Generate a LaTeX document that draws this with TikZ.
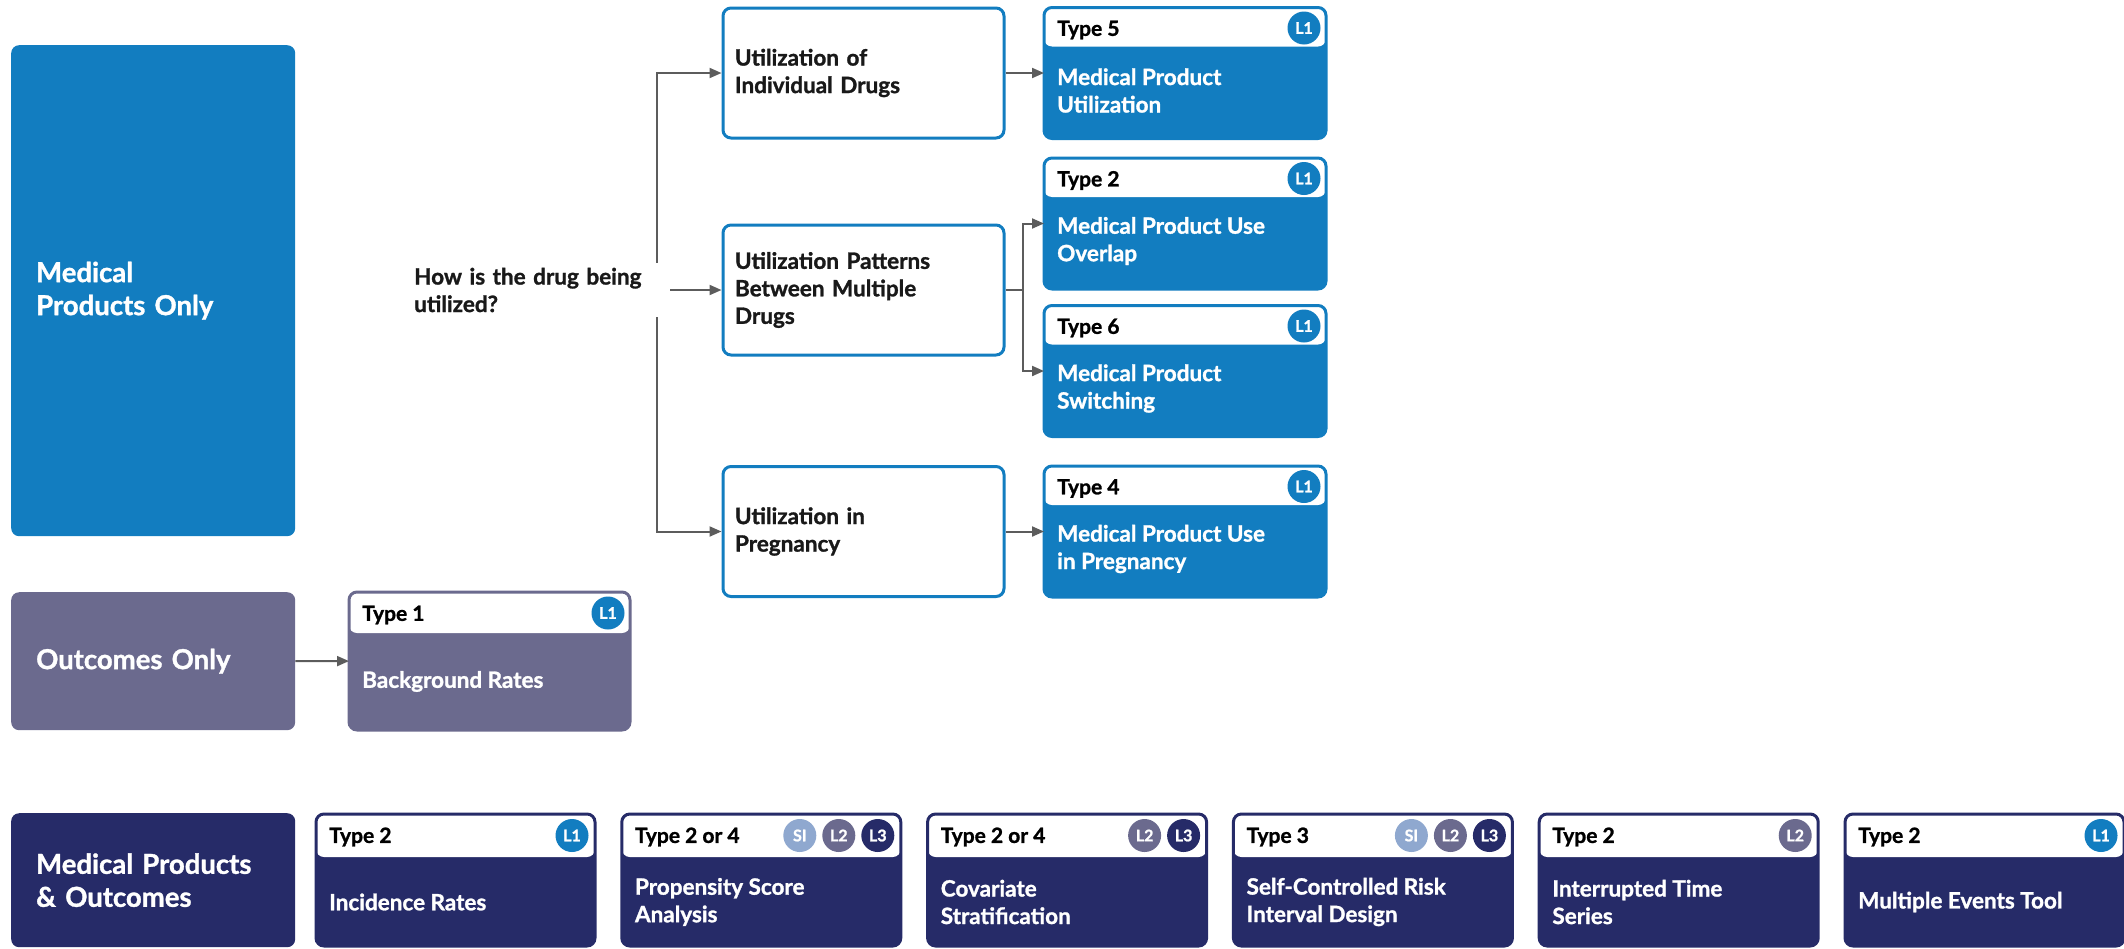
\documentclass[tikz,border=0pt]{standalone}
\usepackage{fontspec}
\setmainfont{Lato}[BoldFeatures={FakeBold=1.2}]
\usepackage{xcolor}
\usepackage{tikz}
\usetikzlibrary{positioning, arrows.meta, calc}
\definecolor{mpblue}{HTML}{127DC0}
\definecolor{mpslate}{HTML}{6B6A8E}
\definecolor{mpnavy}{HTML}{262B68}
\definecolor{mpsky}{HTML}{8FA8CF}
\definecolor{mpgray}{HTML}{5C5C5C}

\begin{document}
\begin{tikzpicture}[x=1pt, y=-1pt,
  font=\fontsize{22.5}{27.5}\selectfont\bfseries,
  group/.style={fill=#1, rounded corners=8pt, anchor=north west, minimum width=284, text width=234, inner xsep=25, align=left, text=white, font=\fontsize{27.5}{33}\selectfont\bfseries},
  qbox/.style={draw=mpblue, line width=3pt, fill=white, rounded corners=8pt, minimum width=281, minimum height=130, text width=257, inner xsep=12, align=left, text=black!90},
  card/.style 2 args={draw=#1, fill=#1, line width=3pt, rounded corners=8pt, outer sep=0, minimum width=282, minimum height=131, inner sep=0,
    path picture={\fill[white] (path picture bounding box.north west) rectangle ([yshift=-#2pt]path picture bounding box.north east);}},
  typelabel/.style={anchor=west, inner sep=0, text=black, font=\fontsize{21}{25}\selectfont\bfseries},
  cardtext/.style={anchor=west, inner sep=0, align=left, text=white},
  badge/.style={circle, fill=#1, minimum size=33, inner sep=0, text=white, font=\fontsize{16}{16}\selectfont\bfseries},
  conn/.style={draw=mpgray, line width=2pt},
  arr/.style={conn, -{Triangle[length=12pt, width=10pt]}}]
  \useasboundingbox (0,0) rectangle (2124,948);

  % left column groups
  \node[group=mpblue, minimum height=491] (mpo) at (11,45) {Medical\\Products Only};
  \node[group=mpslate, minimum height=138] (oo) at (11,592) {Outcomes Only};
  \node[group=mpnavy, minimum height=134] (mpoc) at (11,813) {Medical Products\\\& Outcomes};

  % utilization questions
  \node[anchor=west, align=left, text width=250, inner xsep=6, inner ysep=5, text=black!90] (q) at (408,290) {How is the drug being\\utilized?};
  \node[qbox] (ui) at (863.5,73) {Utilization of\\Individual Drugs};
  \node[qbox] (um) at (863.5,290) {Utilization Patterns\\Between Multiple\\Drugs};
  \node[qbox] (up) at (863.5,531.5) {Utilization in\\Pregnancy};

  % query types, medical products only
  \node[card={mpblue}{39}] (t5) at (1185,73) {};
  \node[typelabel] at ([xshift=13pt, yshift=-22.5pt]t5.north west) {Type 5};
  \node[cardtext] at ([xshift=13pt, yshift=-17.5pt]t5.west) {Medical Product\\Utilization};
  \node[badge=mpblue] at ([xshift=-22pt, yshift=-20.5pt]t5.north east) {L1};

  \node[card={mpblue}{39}] (t2) at (1185,223.5) {};
  \node[typelabel] at ([xshift=13pt, yshift=-22.5pt]t2.north west) {Type 2};
  \node[cardtext] at ([xshift=13pt, yshift=-17.5pt]t2.west) {Medical Product Use\\Overlap};
  \node[badge=mpblue] at ([xshift=-22pt, yshift=-20.5pt]t2.north east) {L1};

  \node[card={mpblue}{39}] (t6) at (1185,371) {};
  \node[typelabel] at ([xshift=13pt, yshift=-22.5pt]t6.north west) {Type 6};
  \node[cardtext] at ([xshift=13pt, yshift=-17.5pt]t6.west) {Medical Product\\Switching};
  \node[badge=mpblue] at ([xshift=-22pt, yshift=-20.5pt]t6.north east) {L1};

  \node[card={mpblue}{39}] (t4) at (1185,531.5) {};
  \node[typelabel] at ([xshift=13pt, yshift=-22.5pt]t4.north west) {Type 4};
  \node[cardtext] at ([xshift=13pt, yshift=-17.5pt]t4.west) {Medical Product Use\\in Pregnancy};
  \node[badge=mpblue] at ([xshift=-22pt, yshift=-20.5pt]t4.north east) {L1};

  % outcomes only
  \node[card={mpslate}{41}, minimum width=281, minimum height=138] (t1) at (489.5,661) {};
  \node[typelabel] at ([xshift=13pt, yshift=-23pt]t1.north west) {Type 1};
  \node[cardtext] at ([xshift=13pt, yshift=-20.5pt]t1.west) {Background Rates};
  \node[badge=mpblue] at ([xshift=-22pt, yshift=-21pt]t1.north east) {L1};

  % medical products & outcomes
  \foreach \i/\typ/\txt in {0/Type 2/Incidence Rates, 1/Type 2 or 4/{Propensity Score\\Analysis},
      2/Type 2 or 4/{Covariate\\Stratification}, 3/Type 3/{Self-Controlled Risk\\Interval Design},
      4/Type 2/{Interrupted Time\\Series}, 5/Type 2/Multiple Events Tool} {
    \node[card={mpnavy}{43}, minimum width=279, minimum height=132] (b\i) at (455.5+305.8*\i,880) {};
    \node[typelabel] at ([xshift=13pt, yshift=-23pt]b\i.north west) {\typ};
    \node[cardtext] at ([xshift=13pt, yshift=-22pt]b\i.west) {\txt};
  }
  \foreach \c/\off/\col/\lab in {0/23/mpblue/L1, 1/101/mpsky/SI, 1/62/mpslate/L2, 1/23/mpnavy/L3,
      2/62/mpslate/L2, 2/23/mpnavy/L3, 3/101/mpsky/SI, 3/62/mpslate/L2, 3/23/mpnavy/L3,
      4/23/mpslate/L2, 5/23/mpblue/L1}
    \node[badge=\col] at ([xshift=-\off, yshift=-21.5pt]b\c.north east) {\lab};

  % connectors
  \coordinate (fork) at (657,290);
  \coordinate (split) at (1023,290);
  \draw[arr] (fork |- q.north) -- (fork |- ui.west) -- (ui.west);
  \draw[arr] (fork |- q.south) -- (fork |- up.west) -- (up.west);
  \draw[arr] (q.east) -- (um.west);
  \draw[arr] (ui) -- (t5);
  \draw[conn] (um.east) -- (split);
  \draw[arr] (split) |- (t2.west);
  \draw[arr] (split) |- (t6.west);
  \draw[arr] (up) -- (t4);
  \draw[arr] (oo) -- (t1);
\end{tikzpicture}
\end{document}
